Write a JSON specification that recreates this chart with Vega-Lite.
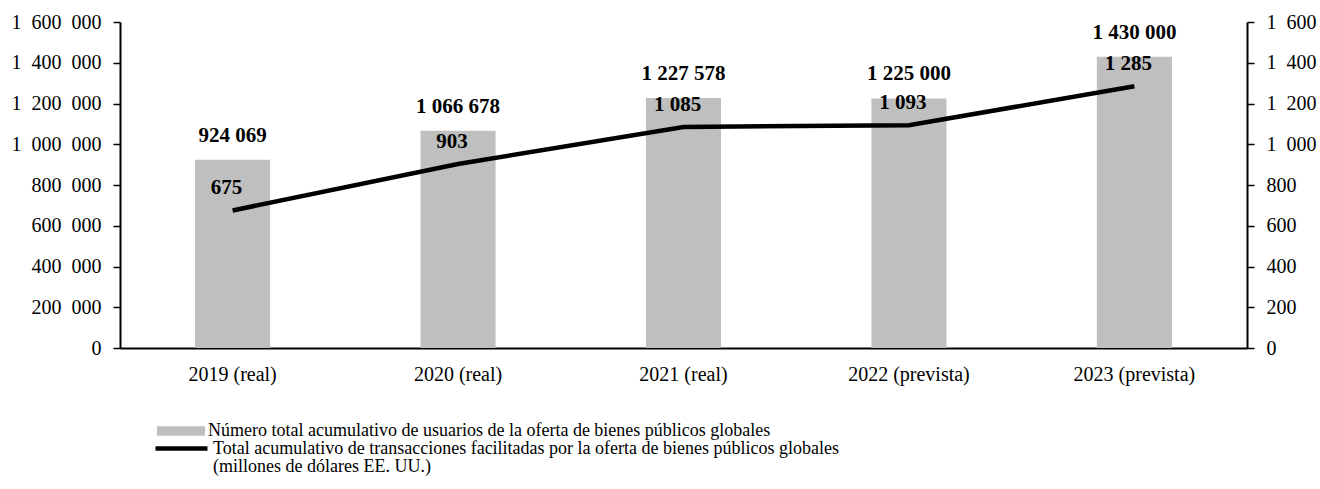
{
  "$schema": "https://vega.github.io/schema/vega-lite/v6.json",
  "autosize": {"type": "none"},
  "width": 1127,
  "height": 326,
  "padding": {"left": 120, "top": 22, "right": 73, "bottom": 141},
  "background": "white",
  "config": {
    "locale": {"number": {"decimal": ",", "thousands": " ", "grouping": [3], "currency": ["", ""]}},
    "view": {"stroke": null},
    "axis": {"labelFont": "Liberation Serif", "labelFontSize": 20, "labelColor": "black", "domainColor": "black", "domainWidth": 2, "tickColor": "black", "tickWidth": 1.5, "grid": false, "title": null},
    "legend": {"labelFont": "Liberation Serif", "labelFontSize": 18, "labelColor": "black", "labelLimit": 1000, "padding": 0, "title": null}
  },
  "data": {"values": [
    {"year": "2019 (real)", "usuarios": 924069, "transacciones": 675},
    {"year": "2020 (real)", "usuarios": 1066678, "transacciones": 903},
    {"year": "2021 (real)", "usuarios": 1227578, "transacciones": 1085},
    {"year": "2022 (prevista)", "usuarios": 1225000, "transacciones": 1093},
    {"year": "2023 (prevista)", "usuarios": 1430000, "transacciones": 1285}
  ]},
  "encoding": {
    "x": {"field": "year", "type": "nominal", "sort": null,
      "scale": {"paddingInner": 0.667, "paddingOuter": 0.333},
      "axis": {"labelAngle": 0, "ticks": false, "labelPadding": 16, "domainWidth": 2}}
  },
  "layer": [
    {
      "encoding": {
        "y": {"field": "usuarios", "type": "quantitative",
          "scale": {"domain": [0, 1600000], "nice": false},
          "axis": {"orient": "left", "values": [0, 200000, 400000, 600000, 800000, 1000000, 1200000, 1400000, 1600000], "format": ",d", "tickSize": 7, "labelPadding": 12,
            "labelExpr": "replace(datum.label, regexp(' ', 'g'), '\u2007')"}}
      },
      "layer": [
        {
          "mark": {"type": "bar", "color": "#bfbfbf"},
          "encoding": {
            "fill": {"datum": "Número total acumulativo de usuarios de la oferta de bienes públicos globales", "type": "nominal",
              "scale": {"range": ["#bfbfbf"]},
              "legend": {"orient": "none", "legendX": 37, "legendY": 385, "symbolType": "M-1,-0.2H1V0.2H-1Z", "symbolSize": 2304, "symbolStrokeWidth": 0, "labelOffset": 3}}
          }
        },
        {
          "mark": {"type": "text", "font": "Liberation Serif", "fontWeight": "bold", "fontSize": 21, "baseline": "bottom", "dy": -14, "color": "black"},
          "encoding": {"text": {"field": "usuarios", "type": "quantitative", "format": ",d"}}
        }
      ]
    },
    {
      "encoding": {
        "y": {"field": "transacciones", "type": "quantitative",
          "scale": {"domain": [0, 1600], "nice": false},
          "axis": {"orient": "right", "values": [0, 200, 400, 600, 800, 1000, 1200, 1400, 1600], "format": ",d", "tickSize": 7, "labelPadding": 12,
            "labelExpr": "replace(datum.label, regexp(' ', 'g'), '\u2007')"}}
      },
      "layer": [
        {
          "mark": {"type": "line", "strokeWidth": 4.5, "color": "black"},
          "encoding": {
            "stroke": {"datum": "Total acumulativo de transacciones facilitadas por la oferta de bienes públicos globales", "type": "nominal",
              "scale": {"range": ["black"]},
              "legend": {"orient": "none", "legendX": 33, "legendY": 398, "symbolType": "stroke", "symbolSize": 2704, "symbolStrokeWidth": 4.5, "labelOffset": 3,
                "labelExpr": "[datum.label, '(millones de dólares EE. UU.)']",
                "encode": {"labels": {"update": {"lineHeight": {"value": 18}}}}}}
          }
        },
        {
          "mark": {"type": "text", "font": "Liberation Serif", "fontWeight": "bold", "fontSize": 21, "baseline": "bottom", "dy": -12, "dx": -6, "color": "black"},
          "encoding": {"text": {"field": "transacciones", "type": "quantitative", "format": ",d"}}
        }
      ]
    }
  ],
  "resolve": {"scale": {"y": "independent", "fill": "independent", "stroke": "independent"}}
}
